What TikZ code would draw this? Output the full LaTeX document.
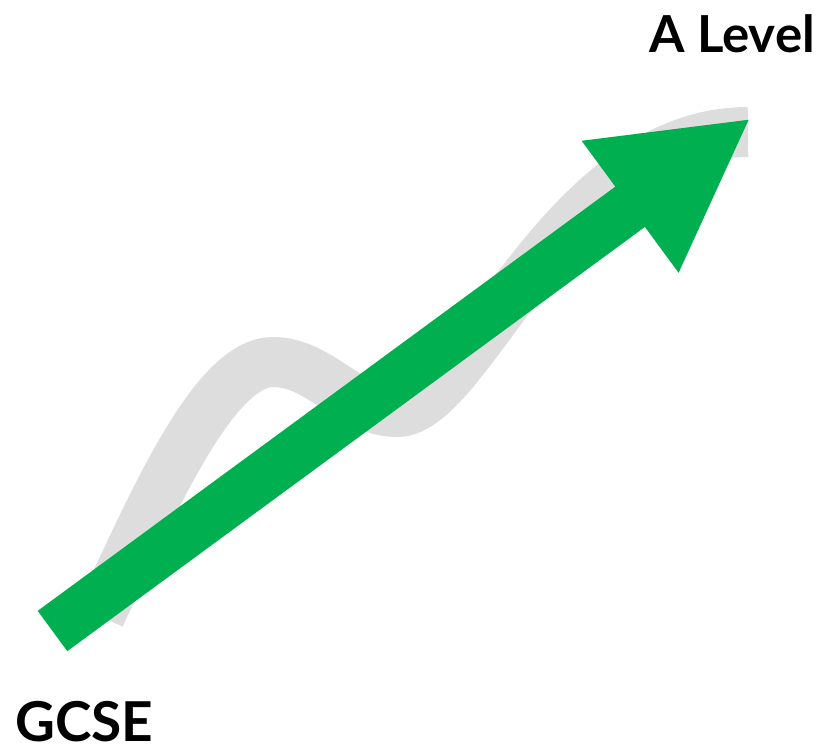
\documentclass[tikz,border=0pt]{standalone}
\usepackage{fontspec}
\setmainfont{Lato}
\usetikzlibrary{arrows.meta}
\definecolor{bandgray}{RGB}{221,221,221}
\definecolor{arrowgreen}{RGB}{0,176,80}
\tikzset{
  band/.style={draw=bandgray, line width=50pt, line cap=butt},
  bigarrow/.style={draw=arrowgreen, line width=50pt, line cap=butt,
    -{Triangle[length=150pt, width=152pt, fill=arrowgreen]}},
  label/.style={inner sep=0pt, font=\bfseries}
}
\begin{document}
\begin{tikzpicture}[x=1pt, y=-1pt]
  \useasboundingbox (0,0) rectangle (821,747);
  % grey wavy band
  \coordinate (b0) at (100,616);
  \coordinate (b1) at (273,362);
  \coordinate (b2) at (397,412);
  \coordinate (b3) at (748,132);
  \draw[band] (b0) .. controls (151,507) and (213,362) .. (b1)
                   .. controls (320,362) and (350,412) .. (b2)
                   .. controls (470,412) and (560,132) .. (b3);
  % green arrow
  \coordinate (tail) at (52.5,631);
  \coordinate (tip) at (751,118);
  \draw[bigarrow] (tail) -- (tip);
  % labels
  \node[label, anchor=base west, font=\fontsize{55}{60}\selectfont\bfseries] (gcse) at (15,741) {GCSE};
  \node[label, anchor=base east, font=\fontsize{51}{56}\selectfont\bfseries] (alevel) at (815,52) {A Level};
\end{tikzpicture}
\end{document}
